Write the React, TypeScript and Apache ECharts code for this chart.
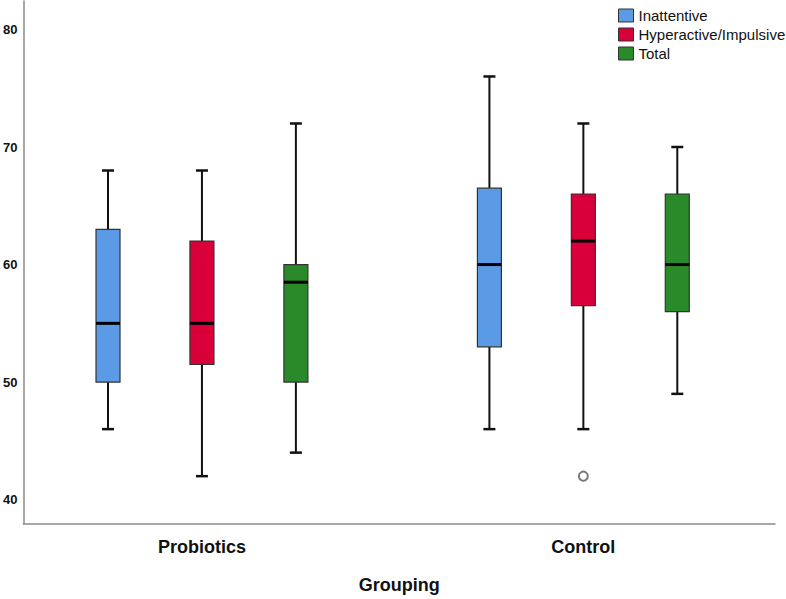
import React, { useEffect, useRef } from 'react';
import * as echarts from 'echarts';

// ---- data ----
const groups = ['Probiotics', 'Control'];
const subgroups = ['Inattentive', 'Hyperactive/Impulsive', 'Total'];
// each entry: [min, Q1, median, Q3, max] for Probiotics, Control
const inattentive = [
  [46, 50, 55, 63, 68],
  [46, 53, 60, 66.5, 76],
];
const hyperactive = [
  [42, 51.5, 55, 62, 68],
  [46, 56.5, 62, 66, 72],
];
const total = [
  [44, 50, 58.5, 60, 72],
  [49, 56, 60, 66, 70],
];
const outlierGroup = ['Control'];
const outlierSubgroup = ['Hyperactive/Impulsive'];
const outlierValue = [42];
const yTicks = [40, 50, 60, 70, 80];

// ---- layout / style ----
const colors = ['#5b9be6', '#d9003a', '#2a8a2a'];
const groupCenters = [1.9, 5.96];
const subOffsets = [-1, 0, 1];
const FONT = "'Liberation Sans', Arial, sans-serif";

const seriesValues = [inattentive, hyperactive, total];

const renderBox = (params: any, api: any) => {
  const x = api.value(0);
  const lo = api.coord([x, api.value(1)]);
  const q1 = api.coord([x, api.value(2)]);
  const md = api.coord([x, api.value(3)]);
  const q3 = api.coord([x, api.value(4)]);
  const hi = api.coord([x, api.value(5)]);
  const cx = lo[0];
  const hw = 12;
  const cap = 6;
  const color = api.visual('color');
  const wStyle = { stroke: '#111', lineWidth: 2 };
  return {
    type: 'group',
    children: [
      { type: 'line', shape: { x1: cx, y1: hi[1], x2: cx, y2: q3[1] }, style: wStyle },
      { type: 'line', shape: { x1: cx, y1: q1[1], x2: cx, y2: lo[1] }, style: wStyle },
      { type: 'line', shape: { x1: cx - cap, y1: hi[1], x2: cx + cap, y2: hi[1] }, style: { stroke: '#111', lineWidth: 2.5 } },
      { type: 'line', shape: { x1: cx - cap, y1: lo[1], x2: cx + cap, y2: lo[1] }, style: { stroke: '#111', lineWidth: 2.5 } },
      {
        type: 'rect',
        shape: { x: cx - hw, y: q3[1], width: hw * 2, height: q1[1] - q3[1] },
        style: { fill: color, stroke: '#333', lineWidth: 1.2 },
      },
      { type: 'line', shape: { x1: cx - hw, y1: md[1], x2: cx + hw, y2: md[1] }, style: { stroke: '#000', lineWidth: 3 } },
    ],
  };
};

export default function App() {
  const ref = useRef<HTMLDivElement>(null);
  useEffect(() => {
    if (!ref.current) return;
    const chart = echarts.init(ref.current, undefined, { renderer: 'svg' });
    const boxSeries = subgroups.map((name, si) => ({
      type: 'custom',
      name,
      xAxisIndex: 0,
      yAxisIndex: 0,
      renderItem: renderBox,
      itemStyle: { color: colors[si] },
      encode: { x: 0, y: [1, 2, 3, 4, 5] },
      data: seriesValues[si].map((v, gi) => [groupCenters[gi] + subOffsets[si], ...v]),
    }));
    const outlierData = outlierValue.map((v, i) => [
      groupCenters[groups.indexOf(outlierGroup[i])] + subOffsets[subgroups.indexOf(outlierSubgroup[i])],
      v,
    ]);
    chart.setOption({
      animation: false,
      backgroundColor: '#ffffff',
      grid: { left: 23, right: 11, top: 1, bottom: 75, containLabel: false },
      legend: {
        data: subgroups,
        orient: 'vertical',
        left: 613,
        top: 3,
        icon: 'rect',
        itemWidth: 15,
        itemHeight: 13,
        itemGap: 4,
        itemStyle: { borderColor: '#333', borderWidth: 1 },
        textStyle: { fontSize: 15, color: '#111', fontFamily: FONT },
      },
      xAxis: {
        type: 'value',
        min: 0,
        max: 8,
        splitLine: { show: false },
        axisTick: { show: false },
        axisLine: { show: true, onZero: false, lineStyle: { color: '#8a8a8a', width: 1.5 } },
        axisLabel: {
          customValues: groupCenters,
          formatter: (v: number) => {
            const i = groupCenters.findIndex((c) => Math.abs(c - v) < 1e-6);
            return i >= 0 ? groups[i] : '';
          },
          fontSize: 18,
          fontWeight: 'bold',
          color: '#111',
          fontFamily: FONT,
          margin: 14,
        },
        name: 'Grouping',
        nameLocation: 'middle',
        nameGap: 52,
        nameTextStyle: { fontSize: 18, fontWeight: 'bold', color: '#111', fontFamily: FONT },
      },
      yAxis: {
        type: 'value',
        min: 37.93,
        max: 82.42,
        splitLine: { show: false },
        axisTick: { show: false },
        axisLine: { show: true, lineStyle: { color: '#8a8a8a', width: 1.5 } },
        axisLabel: {
          customValues: yTicks,
          fontSize: 13,
          fontWeight: 'bold',
          color: '#111',
          fontFamily: FONT,
          margin: 6,
        },
      },
      series: [
        ...boxSeries,
        {
          type: 'scatter',
          name: 'outlier',
          symbol: 'emptyCircle',
          symbolSize: 9,
          itemStyle: { color: '#555', borderWidth: 1.6 },
          data: outlierData,
        },
      ],
    });
    return () => chart.dispose();
  }, []);
  return (
    <div
      ref={ref}
      style={{ position: 'fixed', left: 0, top: 0, width: 786, height: 599, background: '#fff' }}
    />
  );
}
